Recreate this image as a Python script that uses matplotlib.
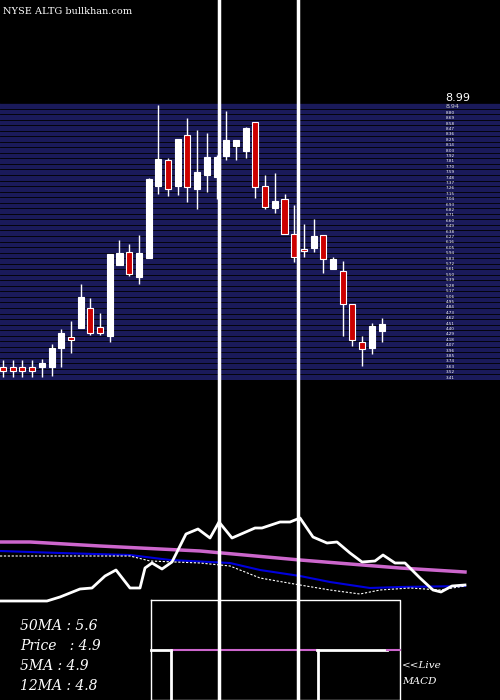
import numpy as np
import matplotlib
matplotlib.use("Agg")
import matplotlib.pyplot as plt

# ====== DATA (ceny svicek) ======
opens  = [3.63, 3.63, 3.63, 3.63, 3.63, 3.63, 4.01, 4.24, 4.42, 4.83, 4.44, 4.26, 5.70, 5.97, 5.46, 5.84, 7.31, 7.84, 7.31, 8.35, 7.25, 7.53, 7.49, 7.92, 8.12, 8.02, 8.61, 7.31, 6.86, 7.05, 6.33, 6.03, 6.05, 6.31, 5.62, 5.58, 4.91, 4.13, 4.01, 4.36]
closes = [3.54, 3.54, 3.54, 3.54, 3.71, 4.01, 4.32, 4.17, 5.05, 4.32, 4.32, 5.93, 5.95, 5.52, 5.95, 7.45, 7.86, 7.25, 8.27, 7.29, 7.60, 7.90, 7.90, 8.25, 8.25, 8.49, 7.29, 6.88, 7.00, 6.33, 5.86, 5.99, 6.29, 5.82, 5.82, 4.91, 4.17, 3.99, 4.46, 4.50]
highs  = [3.77, 3.77, 3.77, 3.77, 3.79, 4.09, 4.40, 4.56, 5.31, 5.03, 4.72, 5.93, 6.21, 6.13, 6.31, 7.47, 8.96, 7.88, 8.27, 8.69, 8.45, 8.39, 7.94, 8.84, 8.25, 8.51, 8.61, 7.53, 7.57, 7.15, 6.92, 6.54, 6.64, 6.31, 5.86, 5.78, 4.91, 4.26, 4.52, 4.62]
lows   = [3.42, 3.42, 3.42, 3.42, 3.42, 3.44, 3.63, 3.91, 4.42, 4.28, 4.28, 4.13, 5.70, 5.48, 5.31, 5.84, 7.15, 7.11, 7.13, 6.98, 6.84, 7.19, 7.05, 7.84, 7.84, 7.88, 7.07, 6.84, 6.76, 6.33, 5.76, 5.86, 5.97, 5.54, 5.62, 4.26, 4.05, 3.65, 3.89, 4.13]

# indikatory (pixelove souradnice spodniho panelu)
price_x = [0, 47, 60, 80, 92, 105, 116, 130, 140, 145, 152, 162, 172, 186, 198, 210, 219, 232, 255, 262, 280, 290, 300, 313, 327, 337, 350, 362, 375, 383, 395, 405, 420, 433, 441, 452, 465]
price_y = [601, 601, 597, 589, 588, 576, 570, 588, 588, 568, 563, 569, 562, 534, 529, 538, 522, 538, 528, 528, 522, 522, 518, 537, 543, 542, 553, 562, 561, 555, 563, 563, 578, 590, 592, 586, 585]
ma50_x = [0, 30, 100, 200, 300, 400, 465]
ma50_y = [542, 542, 546, 551, 560, 568, 572]
ma12_x = [0, 60, 130, 170, 230, 260, 300, 330, 370, 400, 465]
ma12_y = [551, 553, 555, 560, 563, 570, 576, 582, 588, 587, 586]
ma5_x = [0, 130, 150, 200, 230, 260, 300, 330, 360, 380, 410, 440, 465]
ma5_y = [556, 556, 561, 563, 566, 578, 585, 590, 594, 590, 588, 590, 586]

labels = ["50MA : 5.6", "Price   : 4.9", "5MA : 4.9", "12MA : 4.8"]
top_price = 9.0
bottom_price = 3.36

# ====== GRAF ======
fig = plt.figure(figsize=(5, 7), dpi=100, facecolor="black")

# svicky
axc = fig.add_axes([0, (700 - 380) / 700, 1, 277 / 700], zorder=1)
axc.set_facecolor("black")
axc.set_xlim(-0.31, 51.2)
axc.set_ylim(bottom_price, top_price)
axc.axis("off")
axc.axhspan(bottom_price, top_price, xmin=0, xmax=1, color="#1a1a5a", lw=0)
for lvl in np.linspace(bottom_price, top_price, 51):
    axc.axhline(lvl, color="black", lw=0.6)
for i, (o, c, h, l) in enumerate(zip(opens, closes, highs, lows)):
    axc.vlines(i, l, h, color="white", lw=1)
    col = "#cc0000" if c < o else "white"
    b = min(o, c)
    hgt = max(abs(c - o), 0.04)
    axc.bar(i, hgt, bottom=b, width=0.62, color=col, edgecolor="white", lw=0.8, zorder=3)
# popisky cen vpravo
for lvl in np.linspace(bottom_price + 0.05, top_price - 0.2, 50):
    axc.text(45.6, lvl, f"{lvl:.2f}", color="white", fontsize=3, va="center")
axc.text(45.6, top_price + 0.1, "8.99", color="white", fontsize=8, va="center")
axc.text(45.6, top_price - 0.08, "8.94", color="#cccccc", fontsize=4.5, va="center")

# prekryv v pixelech
ax = fig.add_axes([0, 0, 1, 1], zorder=2)
ax.patch.set_alpha(0)
ax.set_xlim(0, 500)
ax.set_ylim(700, 0)
ax.axis("off")

ax.plot(ma50_x, ma50_y, color="#cc66cc", lw=2.5)
ax.plot(ma12_x, ma12_y, color="#0000dd", lw=1.5)
ax.plot(ma5_x, ma5_y, color="white", lw=0.8, ls=(0, (2, 1.5)))
ax.plot(price_x, price_y, color="white", lw=2)

# MACD box
ax.plot([151, 400, 400, 151, 151], [600, 600, 700, 700, 600], color="white", lw=1)
ax.plot([151, 171], [650, 650], color="white", lw=2)
ax.plot([171, 317], [650, 650], color="#cc66cc", lw=1.5)
ax.plot([317, 387], [650, 650], color="white", lw=2)
ax.plot([387, 400], [650, 650], color="#cc66cc", lw=1.5)
ax.plot([171, 171], [650, 700], color="white", lw=2)
ax.plot([318, 318], [650, 700], color="white", lw=2)

# svisle cary
ax.plot([219, 219], [0, 700], color="white", lw=2.5)
ax.plot([298, 298], [0, 700], color="white", lw=2.5)

ax.text(3, 12, "NYSE ALTG bullkhan.com", color="white", fontsize=7, family="DejaVu Serif", va="center")
for k, t in enumerate(labels):
    ax.text(20, 626 + k * 20, t, color="white", fontsize=10, family="DejaVu Serif",
            style="italic", va="center")
ax.text(402, 666, "<<Live", color="white", fontsize=7.5, family="DejaVu Serif", style="italic", va="center")
ax.text(402, 681, "MACD", color="white", fontsize=7.5, family="DejaVu Serif", style="italic", va="center")

fig.savefig("out.png", dpi=100, facecolor="black")
